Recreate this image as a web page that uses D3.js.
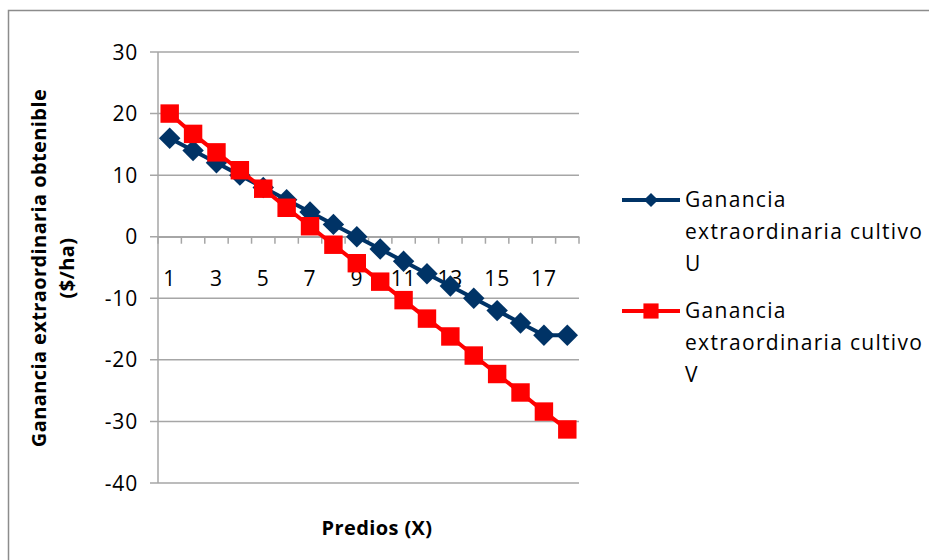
<!DOCTYPE html>
<html>
<head>
  <meta charset="utf-8">
  <title>Ganancia extraordinaria</title>
  <style>
    body { margin: 0; background: #fff; }
    svg { font-family: "Open Sans", sans-serif; }
    .grid line { stroke: #a6a6a6; stroke-width: 1.5px; }
    .axis text { font-size: 21px; fill: #000; letter-spacing: 0.8px; }
    .title { font-size: 20px; font-weight: bold; fill: #000; letter-spacing: 0.4px; }
    .legend text { font-size: 21px; fill: #000; letter-spacing: 1.3px; }
  </style>
</head>
<body>
  <svg width="929" height="560"></svg>

  <script src="https://d3js.org/d3.v7.min.js"></script>
  <script>
    // Datos
    const predios = d3.range(1, 19);
    const cultivoU = [16, 14, 12, 10, 8, 6, 4, 2, 0, -2, -4, -6, -8, -10, -12, -14, -16, -16];
    const cultivoV = [20, 16.7, 13.7, 10.8, 7.8, 4.7, 1.7, -1.3, -4.3, -7.3, -10.3, -13.3, -16.2, -19.3, -22.3, -25.3, -28.4, -31.3];
    const yTicks = [30, 20, 10, 0, -10, -20, -30, -40];
    const xLabels = [1, 3, 5, 7, 9, 11, 13, 15, 17];

    const series = [
      { name: ["Ganancia", "extraordinaria cultivo", "U"], values: cultivoU, color: "#003366", shape: "diamond" },
      { name: ["Ganancia", "extraordinaria cultivo", "V"], values: cultivoV, color: "#ff0000", shape: "square" }
    ];

    const svg = d3.select("svg");
    const mLeft = 158, mRight = 579, mTop = 52, mBottom = 483;

    // borde del gráfico
    svg.append("rect")
      .attr("x", 8.5).attr("y", 10.5)
      .attr("width", 940).attr("height", 580)
      .attr("fill", "none").attr("stroke", "#8c8c8c").attr("stroke-width", 1.5);

    const x = d3.scaleBand().domain(predios).range([mLeft, mRight]);
    const y = d3.scaleLinear().domain([-40, 30]).range([mBottom, mTop]);

    // líneas de división
    svg.append("g").attr("class", "grid")
      .selectAll("line").data(yTicks).join("line")
      .attr("x1", mLeft - 8).attr("x2", mRight)
      .attr("y1", d => y(d)).attr("y2", d => y(d));

    // eje vertical
    svg.append("line")
      .attr("x1", mLeft).attr("x2", mLeft).attr("y1", mTop).attr("y2", mBottom)
      .attr("stroke", "#a6a6a6").attr("stroke-width", 1.5);

    svg.append("g").attr("class", "axis")
      .selectAll("text").data(yTicks).join("text")
      .attr("x", mLeft - 20).attr("y", d => y(d))
      .attr("dy", "0.36em").attr("text-anchor", "end")
      .text(d => d);

    // eje horizontal en cero
    const xAxis = svg.append("g").attr("class", "axis")
      .attr("transform", `translate(0,${y(0)})`)
      .call(d3.axisBottom(x).tickSize(0).tickFormat(d => xLabels.includes(d) ? d : ""));
    xAxis.select(".domain").attr("stroke", "#a6a6a6").attr("stroke-width", 1.5);
    xAxis.selectAll("text").attr("y", 49).attr("dy", "0")
      .style("font-family", "Open Sans").style("font-size", "21px");
    svg.append("g").selectAll("line")
      .data(d3.range(0, predios.length + 1)).join("line")
      .attr("x1", i => mLeft + i * x.step()).attr("x2", i => mLeft + i * x.step())
      .attr("y1", y(0)).attr("y2", y(0) + 7)
      .attr("stroke", "#a6a6a6").attr("stroke-width", 1.5);

    // series
    const line = d3.line().x((d, i) => x(predios[i]) + x.bandwidth() / 2).y(d => y(d));
    const sym = { diamond: d3.symbol().type(d3.symbolSquare).size(230), square: d3.symbol().type(d3.symbolSquare).size(340) };

    series.forEach(s => {
      svg.append("path").datum(s.values)
        .attr("d", line).attr("fill", "none")
        .attr("stroke", s.color).attr("stroke-width", 4);
      svg.append("g").selectAll("path").data(s.values).join("path")
        .attr("d", sym[s.shape])
        .attr("transform", (d, i) => `translate(${x(predios[i]) + x.bandwidth() / 2},${y(d)})` + (s.shape === "diamond" ? " rotate(45)" : ""))
        .attr("fill", s.color);
    });

    // títulos
    svg.append("text").attr("class", "title")
      .attr("x", 377).attr("y", 535).attr("text-anchor", "middle")
      .text("Predios (X)");
    const yt = svg.append("text").attr("class", "title")
      .attr("transform", "translate(46,268) rotate(-90)").attr("text-anchor", "middle");
    yt.append("tspan").attr("x", 0).attr("y", 0).text("Ganancia extraordinaria obtenible");
    yt.append("tspan").attr("x", 0).attr("y", 28).text("($/ha)");

    // leyenda
    const legend = svg.append("g").attr("class", "legend")
      .selectAll("g").data(series).join("g")
      .attr("transform", (d, i) => `translate(622,${200 + i * 111})`);
    legend.append("line").attr("x1", 0).attr("x2", 58)
      .attr("stroke", d => d.color).attr("stroke-width", 4);
    legend.append("path")
      .attr("d", d => d.shape === "diamond" ? d3.symbol().type(d3.symbolSquare).size(100)() : d3.symbol().type(d3.symbolSquare).size(230)())
      .attr("transform", d => "translate(29,0)" + (d.shape === "diamond" ? " rotate(45)" : ""))
      .attr("fill", d => d.color);
    legend.append("text")
      .selectAll("tspan").data(d => d.name).join("tspan")
      .attr("x", 63).attr("y", (d, i) => i * 32).attr("dy", "0.35em")
      .text(d => d);
  </script>
</body>
</html>
